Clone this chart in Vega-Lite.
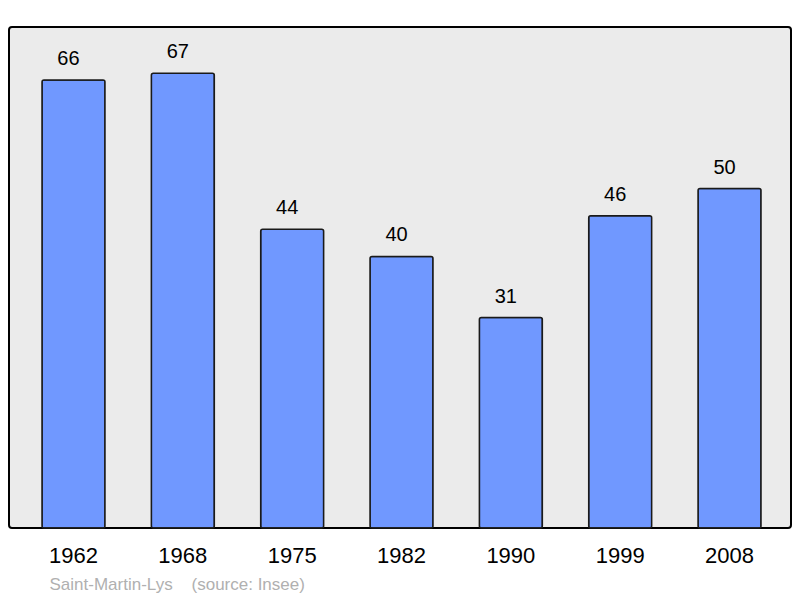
{
	"$schema": "https://vega.github.io/schema/vega-lite/v6.json",
	"description": "Population of Saint-Martin-Lys by census year.",
	"width": 782,
	"height": 501,
	"autosize": "none",
	"padding": { "left": 9, "top": 27, "right": 9, "bottom": 70 },
	"background": "#ffffff",
	"data": {
		"values": [
			{ "year": "1962", "population": 66 },
			{ "year": "1968", "population": 67 },
			{ "year": "1975", "population": 44 },
			{ "year": "1982", "population": 40 },
			{ "year": "1990", "population": 31 },
			{ "year": "1999", "population": 46 },
			{ "year": "2008", "population": 50 }
		]
	},
	"encoding": {
		"x": {
			"field": "year",
			"type": "ordinal",
			"sort": null,
			"scale": { "paddingInner": 0.424, "paddingOuter": 0.288, "align": 0.524 },
			"axis": {
				"title": "Saint-Martin-Lys\u00a0\u00a0\u00a0\u00a0(source: Insee)",
				"titleFont": "Liberation Sans",
				"titleFontSize": 17,
				"titleFontWeight": "normal",
				"titleColor": "#b0b0b0",
				"titleAnchor": "start",
				"titleAlign": "left",
				"titleX": 40,
				"titlePadding": 10,
				"labelAngle": 0,
				"labelFont": "Liberation Sans",
				"labelFontSize": 22,
				"labelColor": "#000000",
				"labelPadding": 17,
				"ticks": false,
				"domain": false
			}
		},
		"y": {
			"field": "population",
			"type": "quantitative",
			"scale": { "domain": [0, 73.8], "nice": false, "zero": true },
			"axis": null
		}
	},
	"layer": [
		{
			"mark": {
				"type": "bar",
				"fill": "#7098ff",
				"stroke": "#1a1a1a",
				"strokeWidth": 1.5,
				"cornerRadius": 2
			}
		},
		{
			"mark": {
				"type": "text",
				"baseline": "alphabetic",
				"dx": -5,
				"dy": -15,
				"font": "Liberation Sans",
				"fontSize": 20,
				"color": "#000000"
			},
			"encoding": {
				"text": { "field": "population", "type": "quantitative" }
			}
		}
	],
	"config": {
		"view": {
			"fill": "#ebebeb",
			"stroke": "#000000",
			"strokeWidth": 2,
			"cornerRadius": 3
		},
		"axis": { "grid": false }
	}
}
